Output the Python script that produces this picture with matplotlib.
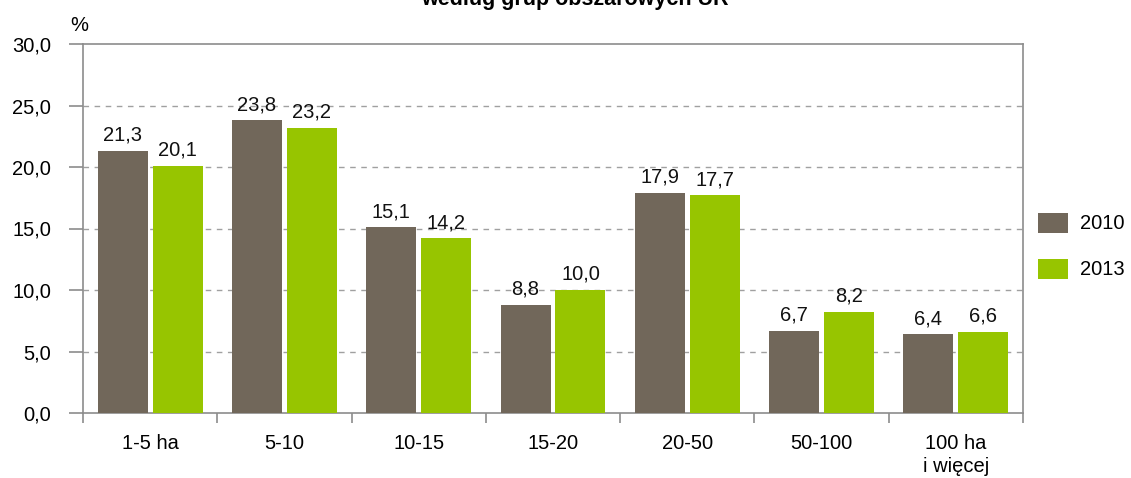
import matplotlib
matplotlib.use("Agg")
from matplotlib import pyplot as plt
import numpy as np

# data
categories = ["1-5 ha", "5-10", "10-15", "15-20", "20-50", "50-100", "100 ha\ni więcej"]
values_2010 = [21.3, 23.8, 15.1, 8.8, 17.9, 6.7, 6.4]
values_2013 = [20.1, 23.2, 14.2, 10.0, 17.7, 8.2, 6.6]
series_labels = ["2010", "2013"]
yticks = [0, 5, 10, 15, 20, 25, 30]

plt.rcParams['font.family'] = ['Liberation Sans', 'DejaVu Sans']
fs = 14.5

brown = "#71675A"
green = "#97C500"
grey = "#8C8C8C"

W, H = 1131, 478
fig = plt.figure(figsize=(W / 100, H / 100), dpi=100)
ax = fig.add_axes([83 / W, 1 - 413 / H, 940 / W, 369 / H])

x = np.arange(len(categories))
w = 0.372
gap = 0.037
b1 = ax.bar(x - (w + gap) / 2, values_2010, w, color=brown, label=series_labels[0], zorder=3)
b2 = ax.bar(x + (w + gap) / 2, values_2013, w, color=green, label=series_labels[1], zorder=3)

for bars, vals in ((b1, values_2010), (b2, values_2013)):
    for r, v in zip(bars, vals):
        ax.text(r.get_x() + r.get_width() / 2, v + 0.5, ("%.1f" % v).replace(".", ","),
                ha="center", va="bottom", fontsize=fs, color="#111111", zorder=4)

ax.set_xlim(-0.5, len(categories) - 0.5)
ax.set_ylim(0, 30)
ax.set_yticks(yticks)
ax.set_yticklabels([("%.1f" % t).replace(".", ",") for t in yticks], fontsize=fs)
ax.set_xticks(x)
ax.set_xticklabels(categories, fontsize=fs, linespacing=1.3)
ax.tick_params(axis="x", length=0, pad=15)
ax.set_xticks(np.arange(-0.5, len(categories)), minor=True)
ax.tick_params(axis="x", which="minor", length=7, color=grey, width=1.2)
ax.tick_params(axis="y", length=10, color=grey, width=1.2, pad=13)

for t in yticks[1:-1]:
    ax.axhline(t, color="#A0A0A0", linestyle=(0, (4, 4)), linewidth=1, zorder=1)

for s in ax.spines.values():
    s.set_color(grey)
    s.set_linewidth(1.2)

fig.text(70 / W, 1 - 31 / H, "%", fontsize=fs, ha="left", va="baseline")

fig.text(575 / W, 1 - 5.5 / H, "według grup obszarowych UR", ha="center", va="baseline",
         fontsize=15.5, fontweight="bold")

ax.legend(loc="center left", bbox_to_anchor=(1038 / W, 1 - 246 / H),
          bbox_transform=fig.transFigure, frameon=False, fontsize=fs,
          borderpad=0, borderaxespad=0,
          handlelength=1.5, handleheight=1.15, labelspacing=1.25, handletextpad=0.6)

plt.savefig("out.png", dpi=100)
